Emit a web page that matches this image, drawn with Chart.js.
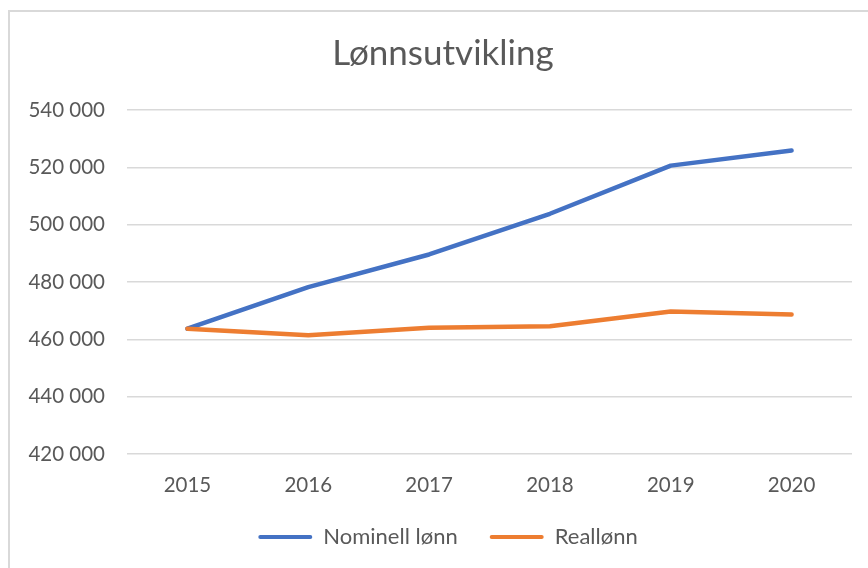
<!DOCTYPE html>
<html lang="no">
<head>
<meta charset="utf-8">
<title>Lønnsutvikling</title>
<script src="https://cdn.jsdelivr.net/npm/chart.js@4/dist/chart.umd.min.js"></script>
<style>
  html, body { margin: 0; padding: 0; background: #fff; overflow: hidden; }
  #wrap { position: relative; width: 868px; height: 568px; }
  #frame { position: absolute; left: 8px; top: 10px; width: 900px; height: 600px;
           border: 2px solid #d9d9d9; box-sizing: border-box; }
  canvas { position: absolute; left: 0; top: 0; }
</style>
</head>
<body>
<div id="wrap">
  <div id="frame"></div>
  <canvas id="chart" width="868" height="568"></canvas>
</div>
<script>
  // Data lest av bildet (estimater)
  const years    = ['2015', '2016', '2017', '2018', '2019', '2020'];
  const nominell = [463700, 478200, 489600, 503800, 520600, 525900];
  const reallonn = [463700, 461400, 464000, 464600, 469700, 468700];
  const seriesNames = ['Nominell lønn', 'Reallønn'];

  const BLUE = '#4472C4';
  const ORANGE = '#ED7D31';
  const TEXT = '#595959';
  const GRID = '#D9D9D9';
  const FONT = "Lato, 'Open Sans', sans-serif";

  // 540000 -> "540 000"
  const fmt = (v) => String(v).replace(/\B(?=(\d{3})+(?!\d))/g, ' ');

  // Excel sentrerer tittel og forklaring på hele rammen, ikke bare lerretet til venstre
  const centerShift = {
    id: 'centerShift',
    afterLayout(chart) {
      const t = chart.titleBlock, l = chart.legend;
      if (t) { t.left += 17; t.right += 17; }
      if (l) { l.left += 22; l.right += 22; }
    },
  };

  Chart.defaults.font.family = FONT;
  Chart.defaults.color = TEXT;

  new Chart(document.getElementById('chart'), {
    type: 'line',
    data: {
      labels: years,
      datasets: [
        { label: seriesNames[0], data: nominell, order: 1,
          borderColor: BLUE, backgroundColor: BLUE },
        { label: seriesNames[1], data: reallonn, order: 0,
          borderColor: ORANGE, backgroundColor: ORANGE },
      ],
    },
    plugins: [centerShift],
    options: {
      responsive: false,
      animation: false,
      devicePixelRatio: 1,
      elements: {
        line: { borderWidth: 4.5, tension: 0, borderCapStyle: 'round', borderJoinStyle: 'round' },
        point: { radius: 0, hoverRadius: 0 },
      },
      layout: { padding: { top: 33, right: 16, bottom: 10, left: 0 } },
      plugins: {
        tooltip: { enabled: false },
        title: {
          display: true,
          text: 'Lønnsutvikling',
          color: TEXT,
          font: { size: 35, weight: 'normal' },
          padding: { top: 0, bottom: 35 },
        },
        legend: {
          position: 'bottom',
          labels: {
            color: TEXT,
            font: { size: 22 },
            boxWidth: 54,
            boxHeight: 4,
            useBorderRadius: true,
            borderRadius: 2,
            padding: 32,
            sort: (a, b) => a.datasetIndex - b.datasetIndex,
            generateLabels: (chart) => Chart.defaults.plugins.legend.labels
              .generateLabels(chart).map((l) => Object.assign(l, { lineWidth: 0 })),
          },
        },
      },
      scales: {
        x: {
          offset: true,
          grid: { display: false, drawTicks: false },
          border: { display: false },
          afterFit: (s) => { s.height = 40; },
          ticks: { color: TEXT, font: { size: 20.5 }, padding: 19, maxRotation: 0 },
        },
        y: {
          min: 420000,
          max: 540000,
          grid: { color: GRID, lineWidth: 1.5, drawTicks: false },
          border: { display: false },
          afterFit: (s) => { s.width = 127; },
          ticks: { stepSize: 20000, color: TEXT, font: { size: 20.5 }, padding: 22,
                   callback: (v) => fmt(v) },
        },
      },
    },
  });
</script>
</body>
</html>
